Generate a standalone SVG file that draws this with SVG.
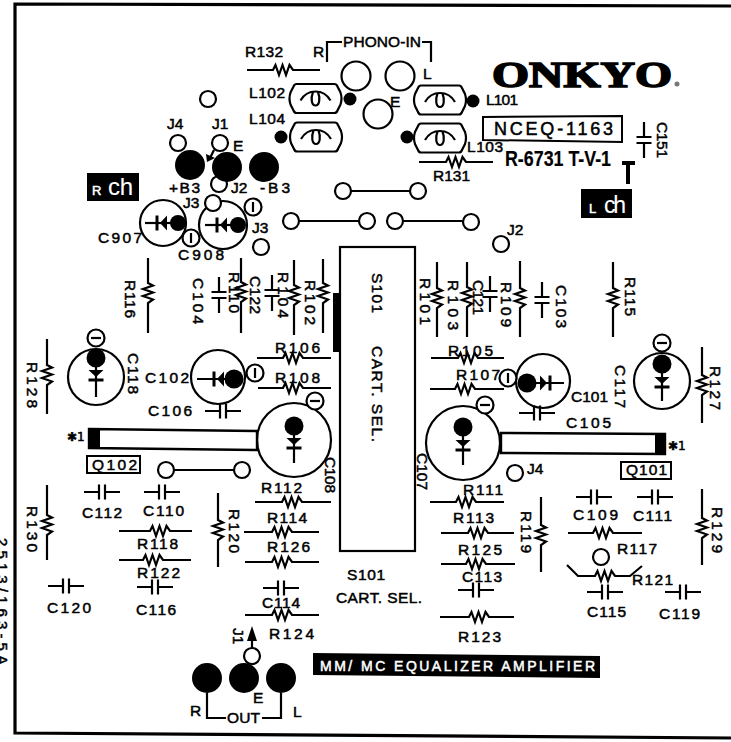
<svg xmlns="http://www.w3.org/2000/svg" width="731" height="742" viewBox="0 0 731 742">
<style>
text{font-family:"Liberation Sans",Arial,sans-serif;font-size:15.5px;fill:#000;stroke:#000;stroke-width:.5}
.w{fill:none;stroke:#000;stroke-width:2.2;stroke-linejoin:miter}
.o{fill:#fff;stroke:#000;stroke-width:2.2}
.l{fill:none;stroke:#000;stroke-width:2.2}
.b{fill:#000}
.wt{fill:#fff;stroke:#fff}
</style>
<defs>
<g id="ch"><path class="w" d="M-18 0H-3M-3 -7.5V7.5M3 -7.5V7.5M3 0H18"/></g>
<g id="cv"><path class="w" d="M0 -18V-3M-7.5 -3H7.5M-7.5 3H7.5M0 3V18"/></g>
<g id="coil"><path class="w" d="M-19 -14.5H19Q21 -14.5 22 -12L25 -6Q27 0 25 6L22 12Q21 14.5 19 14.5H-19Q-21 14.5 -22 12L-25 6Q-27 0 -25 -6L-22 -12Q-21 -14.5 -19 -14.5Z"/><path class="w" d="M-15 2C-11 -5 -6 -7 0 -7C6 -7 11 -5 15 2M-2.5 -6.5C-5 0 -4 7 0 7C4 7 5 0 2.500 -6.500"/></g>
<g id="ci"><circle class="o" r="8.5"/><path class="w" d="M0 -5V5"/></g>
<g id="cm"><circle class="o" r="8.5"/><path class="w" d="M-5 0H5"/></g>
<g id="dv"><path class="b" d="M-7.5 -7H7.5L0 0Z"/><path class="w" style="stroke-width:3" d="M-7.5 3H7.5"/></g>
</defs>
<rect width="731" height="742" fill="#fff"/>
<g id="frame"><path d="M731 6L15 4V733L731 738" fill="none" stroke="#000" stroke-width="3.2"/></g>

<g id="connectors">
<path class="l" d="M327 62V42H342M422 42H431V62"/>
<path class="l" d="M343 191H418M291 221H367M395 221H471M166 470H242"/>
<path class="l" d="M214 150L210 158"/><path class="b" d="M207 162L206 154L215 158Z"/>
<path class="l" d="M252 650V636"/><path class="b" d="M252 626L257 641H247Z"/>
<path class="l" d="M207 693V718H226M262 718H281V693"/>
</g>

<g id="phono"><text x="245" y="57" textLength="38">R132</text><text x="313" y="57">R</text><text x="343" y="47" textLength="78">PHONO-IN</text><text x="423" y="79">L</text><text x="390" y="107">E</text>
<circle class="o" cx="356" cy="76" r="14.5"/><circle class="o" cx="400" cy="76" r="14.5"/><circle class="o" cx="378" cy="114" r="14.5"/></g>
<g id="R132"><path class="w" d="M247 70H273l2.5 -5l3.5 10l3.5 -10l3.500 10l3.500 -10l3.500 5H320"/></g>
<g id="L102"><use href="#coil" x="315.5" y="98.5"/><circle class="b" cx="350" cy="99" r="6.5"/><text x="249" y="98" textLength="36">L102</text></g>
<g id="L104"><use href="#coil" x="316" y="137"/><circle class="b" cx="281" cy="137" r="6.5"/><text x="249" y="124" textLength="36">L104</text></g>
<g id="L101"><use href="#coil" x="440" y="100"/><circle class="b" cx="473" cy="101" r="6.5"/><text x="486" y="105" textLength="32">L101</text></g>
<g id="L103"><use href="#coil" x="440" y="138"/><circle class="b" cx="407" cy="137" r="6.5"/><text x="467" y="152" textLength="36">L103</text></g>
<g id="R131"><path class="w" d="M419 162H446l2.5 -5l3.5 10l3.5 -10l3.5 10l3.5 -10l3.5 5H493"/><text x="433" y="181" textLength="37">R131</text></g>

<g id="onkyo"><text x="492" y="87" textLength="180" lengthAdjust="spacingAndGlyphs" style="font-family:'Liberation Serif',serif;font-weight:bold;font-size:36px;stroke-width:1.6">ONKYO</text><circle cx="677" cy="84" r="2.5" fill="#777"/></g>
<g id="NCEQ"><path d="M483 117L622 116V142L483 140Z" fill="none" stroke="#000" stroke-width="2"/><text x="494" y="135" textLength="119" style="font-size:18px">NCEQ-1163</text></g>
<text x="505" y="166" textLength="106" lengthAdjust="spacingAndGlyphs" style="font-size:22px;font-weight:bold;stroke-width:.2">R-6731 T-V-1</text>
<g id="C151"><use href="#cv" x="644" y="140"/><text transform="translate(657 122) rotate(90)" textLength="36">C151</text></g>
<path class="w" style="stroke-width:4" d="M622 163H635M628 163V184"/>
<g id="Lch"><rect x="581" y="189" width="51" height="29"/><text class="wt" x="589" y="213" style="font-size:13px">L</text><text class="wt" x="604" y="213" textLength="22" style="font-size:23px;stroke-width:.1">ch</text></g>
<g id="Rch"><rect x="87" y="173" width="52" height="28"/><text class="wt" x="92" y="195" style="font-size:13px">R</text><text class="wt" x="108" y="195" textLength="25" style="font-size:24px;stroke-width:.1">ch</text></g>

<g id="power"><circle class="o" cx="208" cy="99" r="8"/><circle class="o" cx="178" cy="143" r="8"/><circle class="o" cx="220" cy="143" r="8"/><circle class="o" cx="219" cy="184" r="8"/>
<circle class="b" cx="190" cy="165" r="15"/><circle class="b" cx="227" cy="167" r="15"/><circle class="b" cx="264" cy="167" r="15"/>
<text x="167" y="129">J4</text><text x="212" y="129">J1</text><text x="233" y="151">E</text><text x="169" y="193" textLength="31">+B3</text><text x="231" y="193">J2</text><text x="260" y="193" textLength="30">-B3</text><text x="183" y="208">J3</text></g>

<g id="C907"><circle class="o" cx="163" cy="223" r="23"/><path class="w" d="M145 223H172"/><use href="#dv" transform="translate(160 223) rotate(90)"/><circle class="b" cx="178" cy="223" r="8"/><use href="#ci" x="191" y="238"/><text x="98" y="243" textLength="44">C907</text></g>
<g id="C908"><circle class="o" cx="223" cy="225" r="24"/><path class="w" d="M205 225H232"/><use href="#dv" transform="translate(220 225) rotate(90)"/><circle class="b" cx="238" cy="225" r="8"/><use href="#ci" x="253" y="207"/><circle class="o" cx="213" cy="203" r="8"/><text x="178" y="260" textLength="46">C908</text></g>
<g id="J3b"><text x="252" y="233">J3</text><circle class="o" cx="261" cy="247" r="8"/></g>
<g id="link-ends"><circle class="o" cx="343" cy="191" r="8"/><circle class="o" cx="418" cy="191" r="8"/><circle class="o" cx="291" cy="221" r="8"/><circle class="o" cx="367" cy="221" r="8"/><circle class="o" cx="395" cy="221" r="8"/><circle class="o" cx="471" cy="222" r="8"/><circle class="o" cx="166" cy="470" r="8"/><circle class="o" cx="242" cy="470" r="8"/></g>
<g id="J2b"><text x="507" y="235">J2</text><circle class="o" cx="501" cy="244" r="8"/></g>

<g id="S101"><rect x="340" y="247" width="75" height="304" fill="#fff" stroke="#000" stroke-width="2.2"/><rect x="333" y="293" width="7" height="59"/><text transform="translate(372 273) rotate(90)" textLength="40">S101</text><text transform="translate(372 346) rotate(90)" textLength="96">CART. SEL.</text></g>
<g id="S101b"><text x="347" y="580" textLength="38">S101</text><text x="336" y="603" textLength="86">CART. SEL.</text></g>

<g id="R116"><path class="w" d="M148 258V283l5 2.5l-10 3.5l10 3.5l-10 3.5l10 3.5l-5 3.5V333"/><text transform="translate(125 280) rotate(90)" textLength="38">R116</text></g>
<g id="C104"><use href="#cv" x="219" y="295"/><text transform="translate(193 278) rotate(90)" textLength="46">C104</text></g>
<g id="R110"><path class="w" d="M241 258V282l5 2.5l-10 3.5l10 3.5l-10 3.5l10 3.5l-5 3.5V333"/><text transform="translate(229 272) rotate(90)" textLength="41">R110</text></g>
<g id="C122"><use href="#cv" x="272" y="293"/><text transform="translate(250 276) rotate(90)" textLength="38">C122</text></g>
<g id="R104"><path class="w" d="M294 260V285l5 2.5l-10 3.5l10 3.5l-10 3.5l10 3.5l-5 3.5V335"/><text transform="translate(278 272) rotate(90)" textLength="46">R104</text></g>
<g id="R102"><path class="w" d="M323 259V283l5 2.5l-10 3.5l10 3.5l-10 3.5l10 3.5l-5 3.5V333"/><text transform="translate(305 280) rotate(90)" textLength="45">R102</text></g>
<g id="R101"><path class="w" d="M437 262V288l5 2.5l-10 3.5l10 3.5l-10 3.5l10 3.5l-5 3.5V337"/><text transform="translate(420 278) rotate(90)" textLength="47">R101</text></g>
<g id="R103"><path class="w" d="M467 262V287l5 2.5l-10 3.5l10 3.5l-10 3.5l10 3.5l-5 3.5V337"/><text transform="translate(448 280) rotate(90)" textLength="50">R103</text></g>
<g id="C121"><use href="#cv" x="490" y="294"/><text transform="translate(473 280) rotate(90)" textLength="35">C121</text></g>
<g id="R109"><path class="w" d="M520 261V288l5 2.5l-10 3.5l10 3.5l-10 3.5l10 3.5l-5 3.5V337"/><text transform="translate(501 282) rotate(90)" textLength="45">R109</text></g>
<g id="C103"><use href="#cv" x="542" y="300"/><text transform="translate(556 285) rotate(90)" textLength="43">C103</text></g>
<g id="R115"><path class="w" d="M613 262V288l5 2.5l-10 3.5l10 3.5l-10 3.5l10 3.5l-5 3.5V337"/><text transform="translate(625 277) rotate(90)" textLength="39">R115</text></g>
<g id="R128"><path class="w" d="M47 339V365l5 2.5l-10 3.5l10 3.5l-10 3.5l10 3.5l-5 3.5V414"/><text transform="translate(27 362) rotate(90)" textLength="46">R128</text></g>
<g id="R127"><path class="w" d="M702 347V375l5 2.5l-10 3.5l10 3.5l-10 3.5l10 3.5l-5 3.5V423"/><text transform="translate(710 366) rotate(90)" textLength="44">R127</text></g>

<g id="C118"><circle class="o" cx="96" cy="377" r="28"/><use href="#cm" x="96" y="338"/><circle class="b" cx="96" cy="358" r="9.5"/><path class="w" d="M96 360V397"/><use href="#dv" x="96" y="377"/><text transform="translate(128 353) rotate(90)" textLength="41">C118</text></g>
<g id="C102"><circle class="o" cx="218" cy="377" r="27"/><use href="#ci" x="255" y="373"/><path class="w" d="M197 379H230"/><circle class="b" cx="234" cy="379" r="9.5"/><use href="#dv" transform="translate(217 379) rotate(90)"/><text x="145" y="383" textLength="44">C102</text></g>
<g id="C106"><use href="#ch" x="223" y="411"/><text x="148" y="416" textLength="44">C106</text></g>
<g id="R106"><path class="w" d="M257 358H283l2.5 -5l3.5 10l3.5 -10l3.5 10l3.5 -10l3.5 5H331"/><text x="275" y="353" textLength="45">R106</text></g>
<g id="R108"><path class="w" d="M258 388H283l2.5 -5l3.5 10l3.5 -10l3.5 10l3.5 -10l3.5 5H331"/><text x="275" y="383" textLength="45">R108</text></g>
<g id="C108"><circle class="o" cx="294" cy="440" r="37"/><use href="#cm" x="315" y="401"/><circle class="b" cx="294" cy="426" r="9.5"/><path class="w" d="M294 428V463"/><use href="#dv" x="294" y="445"/><text transform="translate(325 457) rotate(90)" textLength="36">C108</text></g>
<g id="Q102"><path d="M89 429L257 431V450L89 448Z" fill="#fff" stroke="#000" stroke-width="2.4"/><rect x="89" y="428" width="11" height="20"/><text x="67" y="441" style="font-family:'DejaVu Sans',sans-serif;font-size:12px">✱1</text><rect x="87" y="456" width="53" height="17" fill="#fff" stroke="#000" stroke-width="2"/><text x="92" y="470" textLength="45">Q102</text></g>

<g id="R105"><path class="w" d="M431 358H458l2.5 -5l3.5 10l3.5 -10l3.5 10l3.5 -10l3.5 5H504"/><text x="448" y="356" textLength="45">R105</text></g>
<g id="R107"><path class="w" d="M430 389H455l2.5 -5l3.5 10l3.5 -10l3.5 10l3.5 -10l3.5 5H504"/><text x="456" y="380" textLength="44">R107</text></g>
<g id="C101"><circle class="o" cx="543" cy="381" r="27"/><use href="#ci" x="508" y="378"/><path class="w" d="M531 383H564"/><circle class="b" cx="527" cy="383" r="9.5"/><use href="#dv" transform="translate(547 383) rotate(-90)"/><text x="571" y="402" textLength="37">C101</text></g>
<g id="C105"><use href="#ch" x="537" y="413"/><text x="566" y="428" textLength="45">C105</text></g>
<g id="C117"><circle class="o" cx="662" cy="381" r="28"/><use href="#cm" x="662" y="343"/><circle class="b" cx="662" cy="364" r="9.5"/><path class="w" d="M662 366V401"/><use href="#dv" x="662" y="384"/><text transform="translate(615 365) rotate(90)" textLength="43">C117</text></g>
<g id="C107"><circle class="o" cx="463" cy="443" r="37"/><use href="#cm" x="485" y="405"/><circle class="b" cx="463" cy="427" r="9.5"/><path class="w" d="M463 429V465"/><use href="#dv" x="463" y="447"/><text transform="translate(417 453) rotate(90)" textLength="37">C107</text></g>
<g id="Q101"><path d="M501 433L665 434V454L501 453Z" fill="#fff" stroke="#000" stroke-width="2.4"/><rect x="655" y="434" width="10" height="20"/><text x="668" y="450" style="font-family:'DejaVu Sans',sans-serif;font-size:12px">✱1</text><rect x="621" y="462" width="50" height="17" fill="#fff" stroke="#000" stroke-width="2"/><text x="626" y="475" textLength="41">Q101</text></g>
<g id="J4b"><circle class="o" cx="515" cy="473" r="8"/><text x="527" y="474">J4</text></g>

<g id="R130"><path class="w" d="M47 485V515l5 2.5l-10 3.5l10 3.5l-10 3.5l10 3.5l-5 3.5V560"/><text transform="translate(27 506) rotate(90)" textLength="46">R130</text></g>
<g id="C112"><use href="#ch" x="102" y="492"/><text x="82" y="518" textLength="40">C112</text></g>
<g id="C110"><use href="#ch" x="162" y="492"/><text x="143" y="516" textLength="41">C110</text></g>
<g id="R118"><path class="w" d="M119 531H150l2.5 -5l3.5 10l3.5 -10l3.5 10l3.5 -10l3.5 5H192"/><text x="137" y="549" textLength="41">R118</text></g>
<g id="R122"><path class="w" d="M119 560H143l2.5 -5l3.5 10l3.5 -10l3.5 10l3.5 -10l3.5 5H191"/><text x="137" y="578" textLength="43">R122</text></g>
<g id="C116"><use href="#ch" x="155" y="587"/><text x="136" y="615" textLength="40">C116</text></g>
<g id="C120"><use href="#ch" x="66" y="586"/><text x="47" y="613" textLength="44">C120</text></g>
<g id="R120"><path class="w" d="M218 493V520l5 2.5l-10 3.5l10 3.5l-10 3.5l10 3.5l-5 3.5V567"/><text transform="translate(229 509) rotate(90)" textLength="44">R120</text></g>
<g id="R112"><path class="w" d="M255 502H282l2.5 -5l3.5 10l3.5 -10l3.5 10l3.5 -10l3.5 5H331"/><text x="261" y="493" textLength="41">R112</text></g>
<g id="R114"><path class="w" d="M244 532H272l2.5 -5l3.5 10l3.5 -10l3.5 10l3.5 -10l3.5 5H319"/><text x="267" y="523" textLength="40">R114</text></g>
<g id="R126"><path class="w" d="M245 562H272l2.5 -5l3.5 10l3.5 -10l3.5 10l3.5 -10l3.5 5H319"/><text x="267" y="552" textLength="43">R126</text></g>
<g id="C114"><use href="#ch" x="281" y="588"/><text x="262" y="608" textLength="38">C114</text></g>
<g id="R124"><path class="w" d="M245 615H272l2.5 -5l3.5 10l3.5 -10l3.5 10l3.5 -10l3.5 5H319"/><text x="269" y="639" textLength="45">R124</text></g>
<g id="out"><text transform="translate(233 628) rotate(90)">J1</text><circle class="b" cx="207" cy="678" r="15"/><circle class="b" cx="244" cy="678" r="15"/><circle class="b" cx="281" cy="678" r="15"/><circle class="o" cx="252" cy="656" r="8"/><text x="190" y="716">R</text><text x="253" y="703">E</text><text x="293" y="717">L</text><text x="227" y="723" textLength="33">OUT</text></g>
<g id="title"><path d="M313 653L600 656V678L313 675Z"/><text class="wt" x="320" y="671" textLength="275" style="font-size:14px">MM/ MC EQUALIZER AMPLIFIER</text></g>

<g id="R111"><path class="w" d="M430 502H456l2.5 -5l3.5 10l3.5 -10l3.5 10l3.5 -10l3.5 5H504"/><text x="463" y="495" textLength="40">R111</text></g>
<g id="R113"><path class="w" d="M441 533H468l2.5 -5l3.5 10l3.5 -10l3.5 10l3.5 -10l3.5 5H514"/><text x="453" y="523" textLength="41">R113</text></g>
<g id="R125"><path class="w" d="M441 564H466l2.5 -5l3.5 10l3.5 -10l3.5 10l3.5 -10l3.5 5H515"/><text x="458" y="555" textLength="44">R125</text></g>
<g id="C113"><use href="#ch" x="476" y="590"/><text x="462" y="582" textLength="40">C113</text></g>
<g id="R123"><path class="w" d="M440 617H469l2.5 -5l3.5 10l3.5 -10l3.5 10l3.5 -10l3.5 5H514"/><text x="458" y="642" textLength="43">R123</text></g>
<g id="R119"><path class="w" d="M541 497V525l5 2.5l-10 3.5l10 3.5l-10 3.5l10 3.5l-5 3.5V572"/><text transform="translate(521 511) rotate(90)" textLength="42">R119</text></g>
<g id="C109"><use href="#ch" x="594" y="497"/><text x="573" y="520" textLength="45">C109</text></g>
<g id="C111"><use href="#ch" x="655" y="497"/><text x="633" y="521" textLength="39">C111</text></g>
<g id="R117"><path class="w" d="M568 533H593l2.5 -5l3.5 10l3.5 -10l3.5 10l3.5 -10l3.5 5H642"/><text x="617" y="554" textLength="40">R117</text></g>
<g id="R121"><circle class="o" cx="601" cy="557" r="8"/><path class="w" d="M567 565L578 576H595l2.5 -5l3.5 10l3.5 -10l3.5 10l3.5 -10l3.5 5H630L642 566"/><text x="632" y="585" textLength="41">R121</text></g>
<g id="C115"><use href="#ch" x="605" y="592"/><text x="587" y="617" textLength="39">C115</text></g>
<g id="C119"><use href="#ch" x="683" y="592"/><text x="659" y="619" textLength="41">C119</text></g>
<g id="R129"><path class="w" d="M702 489V518l5 2.5l-10 3.5l10 3.5l-10 3.5l10 3.5l-5 3.5V565"/><text transform="translate(712 507) rotate(90)" textLength="46">R129</text></g>
<text transform="translate(-3 538) rotate(90)" textLength="127" style="font-size:15px">2513/163-5A</text>
</svg>
